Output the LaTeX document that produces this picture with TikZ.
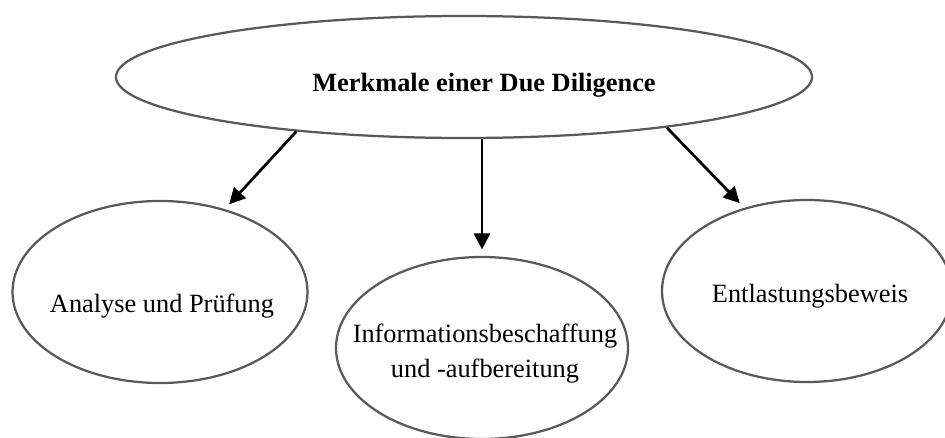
\documentclass[tikz,border=0pt]{standalone}
\usepackage{fontspec}
\setmainfont{Liberation Serif}
\usepackage{tikz}
\usetikzlibrary{positioning, arrows, arrows.meta, shapes.geometric}

\begin{document}
\begin{tikzpicture}[
  blob/.style={ellipse, draw=black!65, line width=0.045cm, inner sep=0pt},
  txt/.style={font=\fontsize{15}{19.9}\selectfont, inner sep=0pt},
  pfeil/.style={-{Triangle[length=0.32cm,width=0.32cm]}, line width=0.055cm, shorten >=0.13cm}
]
\useasboundingbox (0,0) rectangle (18.9,8.74);

\node[blob, minimum width=13.92cm, minimum height=2.44cm] (top) at (9.28,7.20) {};
\node[blob, minimum width=5.90cm, minimum height=3.64cm] (ana) at (3.20,2.90) {};
\node[blob, minimum width=5.84cm, minimum height=3.64cm] (info) at (9.64,1.78) {};
\node[blob, minimum width=5.80cm, minimum height=3.64cm] (entl) at (16.14,2.92) {};

\node[txt, anchor=base, font=\fontsize{15}{19.9}\selectfont\bfseries] (topT) at (9.68,6.90) {Merkmale einer Due Diligence};
\node[txt, anchor=base] (anaT) at (3.24,2.50) {Analyse und Prüfung};
\node[txt, align=center] (infoT) at (9.70,1.67) {Informationsbeschaffung\\und -aufbereitung};
\node[txt, anchor=base] (entlT) at (16.20,2.70) {Entlastungsbeweis};

\draw[pfeil] (top.198) -- (ana.52);
\draw[pfeil] (top.south -| info.north) -- (info.north);
\draw[pfeil] (top.346) -- (entl.127);
\end{tikzpicture}
\end{document}
